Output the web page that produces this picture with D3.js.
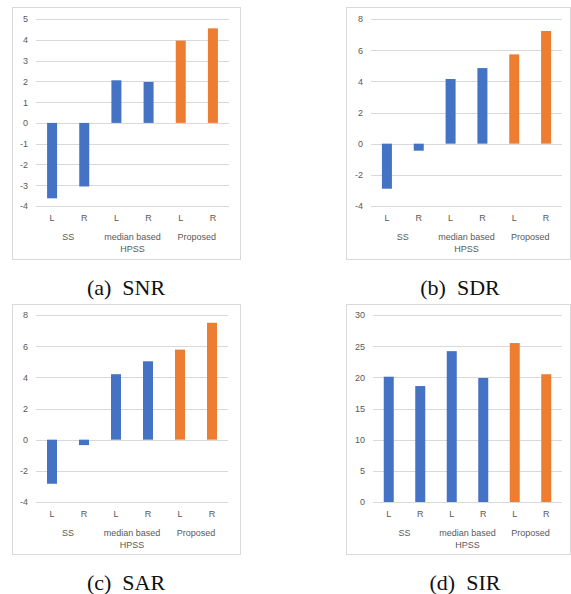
<!DOCTYPE html>
<html>
<head>
<meta charset="utf-8">
<style>
  body { margin: 0; background: white; }
  svg { display: block; }
  .tick text { fill: #595959; font-family: "Liberation Sans", Arial, sans-serif; font-size: 9px; }
  .caption { font-family: "Liberation Serif", "Times New Roman", serif; font-size: 22px; fill: #111; }
</style>
<script src="https://cdn.jsdelivr.net/npm/d3@7"></script>
</head>
<body>
<svg id="chart" width="571" height="594"></svg>
<script>
  // data
  let barLabels = ["L", "R", "L", "R", "L", "R"]
  let methods = ["SS", "median based HPSS", "Proposed"]
  let snrValues = [-3.63, -3.06, 2.05, 1.97, 3.96, 4.55]
  let sdrValues = [-2.89, -0.45, 4.15, 4.85, 5.73, 7.23]
  let sarValues = [-2.83, -0.35, 4.2, 5.03, 5.78, 7.5]
  let sirValues = [20.1, 18.6, 24.2, 19.9, 25.5, 20.5]
  let snrTicks = [-4, -3, -2, -1, 0, 1, 2, 3, 4, 5]
  let sdrTicks = [-4, -2, 0, 2, 4, 6, 8]
  let sarTicks = [-4, -2, 0, 2, 4, 6, 8]
  let sirTicks = [0, 5, 10, 15, 20, 25, 30]
  let captions = ["(a)  SNR", "(b)  SDR", "(c)  SAR", "(d)  SIR"]

  let blue = "#4472c4", orange = "#ed7d31"

  // panel layout: frame box, plot area, caption position
  let panels = [
    { values: snrValues, ticks: snrTicks, caption: captions[0],
      box: [12, 7, 228, 252], plot: [36, 229, 19, 206], cap: [126, 295] },
    { values: sdrValues, ticks: sdrTicks, caption: captions[1],
      box: [346, 7, 224, 252], plot: [371, 562, 19, 206], cap: [460, 295] },
    { values: sarValues, ticks: sarTicks, caption: captions[2],
      box: [12, 304, 228, 250], plot: [36, 228, 315, 502], cap: [126, 590] },
    { values: sirValues, ticks: sirTicks, caption: captions[3],
      box: [346, 304, 224, 250], plot: [373, 562, 315, 502], cap: [465, 590] }
  ]

  let svg = d3.select("#chart")

  panels.forEach(p => drawPanel(p))

  function drawPanel(p) {
    let [bx, by, bw, bh] = p.box
    let [x0, x1, yTop, yBot] = p.plot
    let g = svg.append("g")

    g.append("rect")
      .attr("x", bx + 0.5).attr("y", by + 0.5)
      .attr("width", bw).attr("height", bh)
      .attr("fill", "white").attr("stroke", "#d9d9d9")

    let keys = d3.range(p.values.length)
    let x = d3.scaleBand().domain(keys).range([x0, x1])
    let y = d3.scaleLinear()
      .domain(d3.extent(p.ticks))
      .range([yBot, yTop])

    // gridlines
    g.append("g")
      .selectAll("line").data(p.ticks).enter().append("line")
      .attr("x1", x0).attr("x2", x1)
      .attr("y1", d => Math.round(y(d)) + 0.5)
      .attr("y2", d => Math.round(y(d)) + 0.5)
      .attr("stroke", "#d9d9d9")

    // y axis labels (plain hyphen minus, like Excel)
    let axisY = d3.axisLeft(y).tickValues(p.ticks)
      .tickFormat(d => String(d)).tickSize(0).tickPadding(0)
    let ay = g.append("g")
      .attr("transform", `translate(${x0 - 8},0)`)
      .call(axisY)
    ay.select(".domain").remove()

    // bars
    let bw2 = 10
    g.append("g")
      .selectAll("rect").data(p.values).enter().append("rect")
      .attr("x", (d, i) => x(i) + x.bandwidth() / 2 - bw2 / 2)
      .attr("y", d => y(Math.max(0, d)))
      .attr("width", bw2)
      .attr("height", d => Math.abs(y(d) - y(0)))
      .attr("fill", (d, i) => methods[Math.floor(i / 2)] === "Proposed" ? orange : blue)

    // L / R labels
    let axisX = d3.axisBottom(x).tickFormat(i => barLabels[i]).tickSize(0).tickPadding(0)
    let ax = g.append("g")
      .attr("transform", `translate(0,${yBot + 9})`)
      .call(axisX)
    ax.select(".domain").remove()

    // method labels (wrapped like Excel does)
    methods.forEach((m, k) => {
      let cx = x(k * 2) + x.bandwidth()
      let lines = m === "median based HPSS" ? ["median based", "HPSS"] : [m]
      lines.forEach((t, j) => {
        g.append("text")
          .attr("x", cx)
          .attr("y", yBot + 34 + j * 12)
          .attr("text-anchor", "middle")
          .attr("fill", "#595959")
          .style("font-family", "Liberation Sans, Arial, sans-serif")
          .style("font-size", "9px")
          .text(t)
      })
    })

    svg.append("text")
      .attr("class", "caption")
      .attr("x", p.cap[0]).attr("y", p.cap[1])
      .attr("text-anchor", "middle")
      .attr("xml:space", "preserve")
      .style("white-space", "pre")
      .text(p.caption)
  }
</script>
</body>
</html>
